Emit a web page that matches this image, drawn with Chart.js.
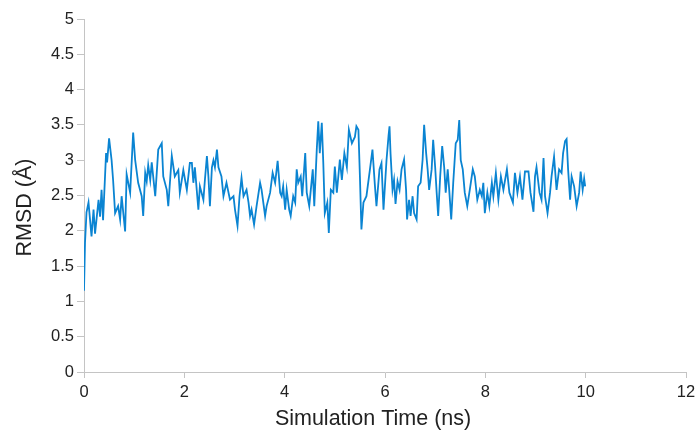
<!DOCTYPE html>
<html>
<head>
<meta charset="utf-8">
<script src="https://cdn.jsdelivr.net/npm/chart.js@4/dist/chart.umd.min.js"></script>
<style>
  html, body { margin: 0; padding: 0; background: #fff; }
  #wrap { width: 695px; height: 432px; }
</style>
</head>
<body>
<div id="wrap"><canvas id="rmsdChart"></canvas></div>
<script>
// RMSD trace over the simulation
const timeNs = [
  0.00, 0.02, 0.05, 0.09, 0.15, 0.19, 0.22, 0.29, 0.32, 0.35, 0.38, 0.44, 0.46, 0.50, 0.55, 0.58,
  0.62, 0.68, 0.72, 0.75, 0.82, 0.85, 0.92, 0.98, 1.02, 1.08, 1.15, 1.18, 1.22, 1.25, 1.28, 1.32,
  1.35, 1.42, 1.48, 1.55, 1.58, 1.65, 1.68, 1.75, 1.81, 1.88, 1.91, 1.98, 2.05, 2.11, 2.15, 2.18,
  2.21, 2.28, 2.31, 2.38, 2.41, 2.45, 2.48, 2.51, 2.55, 2.58, 2.61, 2.65, 2.68, 2.74, 2.78, 2.84,
  2.91, 2.98, 3.01, 3.06, 3.10, 3.14, 3.18, 3.24, 3.28, 3.31, 3.34, 3.39, 3.44, 3.51, 3.54, 3.61,
  3.64, 3.71, 3.76, 3.81, 3.86, 3.91, 3.94, 3.97, 4.01, 4.04, 4.09, 4.12, 4.17, 4.21, 4.24, 4.27,
  4.32, 4.35, 4.41, 4.44, 4.49, 4.56, 4.59, 4.64, 4.67, 4.70, 4.74, 4.77, 4.80, 4.85, 4.88, 4.92,
  4.97, 5.00, 5.04, 5.10, 5.14, 5.19, 5.24, 5.28, 5.34, 5.40, 5.43, 5.47, 5.50, 5.53, 5.57, 5.63,
  5.70, 5.75, 5.80, 5.83, 5.89, 5.93, 5.97, 6.03, 6.07, 6.09, 6.11, 6.15, 6.18, 6.21, 6.25, 6.29,
  6.33, 6.38, 6.42, 6.44, 6.48, 6.51, 6.55, 6.58, 6.63, 6.66, 6.71, 6.75, 6.78, 6.82, 6.85, 6.88,
  6.93, 6.96, 7.00, 7.03, 7.06, 7.10, 7.14, 7.18, 7.21, 7.25, 7.28, 7.32, 7.36, 7.41, 7.45, 7.48,
  7.51, 7.55, 7.59, 7.64, 7.69, 7.75, 7.79, 7.84, 7.89, 7.93, 7.96, 7.99, 8.04, 8.08, 8.13, 8.16,
  8.21, 8.26, 8.31, 8.36, 8.43, 8.48, 8.55, 8.59, 8.64, 8.69, 8.74, 8.79, 8.86, 8.90, 8.96, 8.99,
  9.02, 9.08, 9.12, 9.16, 9.19, 9.24, 9.29, 9.32, 9.37, 9.42, 9.47, 9.52, 9.55, 9.59, 9.62, 9.65,
  9.69, 9.72, 9.77, 9.82, 9.87, 9.90, 9.94, 9.97, 9.99
];
const rmsdA = [
  1.15, 1.83, 2.26, 2.40, 1.92, 2.30, 1.96, 2.44, 2.20, 2.58, 2.15, 3.10, 2.97, 3.31, 3.00, 2.72,
  2.25, 2.35, 2.16, 2.49, 1.99, 2.80, 2.54, 3.39, 3.00, 2.68, 2.49, 2.21, 2.82, 2.70, 2.93, 2.72,
  2.97, 2.49, 3.15, 3.24, 2.77, 2.58, 2.35, 3.06, 2.77, 2.86, 2.54, 2.86, 2.58, 2.96, 2.96, 2.68,
  2.90, 2.30, 2.63, 2.44, 2.72, 3.06, 2.77, 2.35, 2.90, 3.00, 2.90, 3.15, 2.90, 2.77, 2.49, 2.68,
  2.44, 2.49, 2.30, 2.07, 2.49, 2.75, 2.49, 2.58, 2.40, 2.21, 2.30, 2.09, 2.35, 2.68, 2.58, 2.21,
  2.35, 2.54, 2.82, 2.68, 2.99, 2.54, 2.49, 2.63, 2.30, 2.58, 2.30, 2.21, 2.49, 2.40, 2.87, 2.68,
  2.77, 2.49, 3.10, 2.54, 2.35, 2.87, 2.35, 3.15, 3.55, 3.10, 3.53, 2.96, 2.25, 2.40, 1.97, 2.58,
  2.54, 2.91, 2.54, 3.01, 2.72, 3.10, 2.90, 3.43, 3.24, 3.33, 3.48, 3.43, 2.77, 2.02, 2.40, 2.49,
  2.87, 3.15, 2.63, 2.35, 2.87, 2.96, 2.30, 3.00, 3.34, 3.48, 3.10, 2.58, 2.72, 2.38, 2.70, 2.58,
  2.87, 3.01, 2.58, 2.16, 2.44, 2.21, 2.49, 2.25, 2.16, 2.63, 2.68, 3.01, 3.50, 3.10, 2.87, 2.58,
  2.87, 3.29, 2.90, 2.54, 2.21, 2.77, 3.20, 2.90, 2.54, 2.87, 2.58, 2.16, 2.68, 3.24, 3.29, 3.57,
  3.00, 2.87, 2.54, 2.35, 2.58, 2.87, 2.77, 2.44, 2.58, 2.49, 2.68, 2.25, 2.54, 2.35, 2.68, 2.49,
  2.82, 2.44, 2.77, 2.58, 2.87, 2.54, 2.40, 2.82, 2.54, 2.77, 2.44, 2.84, 2.84, 2.54, 2.27, 2.77,
  2.90, 2.54, 2.44, 3.03, 2.49, 2.25, 2.54, 2.77, 3.05, 2.58, 2.87, 2.82, 3.10, 3.27, 3.30, 2.87,
  2.44, 2.77, 2.63, 2.35, 2.54, 2.84, 2.58, 2.74, 2.63
];
const xTicks = [0, 2, 4, 6, 8, 10, 12];
const yTicks = [0, 0.5, 1, 1.5, 2, 2.5, 3, 3.5, 4, 4.5, 5];

const axisGray = '#c4c4c4';
const textColor = '#222';
const fontFamily = "'Liberation Sans', Arial, sans-serif";

const points = timeNs.map((t, i) => ({ x: t, y: rmsdA[i] }));

new Chart(document.getElementById('rmsdChart'), {
  type: 'scatter',
  data: {
    datasets: [{
      data: points,
      showLine: true,
      borderColor: '#0a84d2',
      borderWidth: 1.8,
      pointRadius: 0,
      tension: 0,
      fill: false
    }]
  },
  options: {
    responsive: true,
    maintainAspectRatio: false,
    animation: false,
    layout: { padding: { left: 0, right: 9, top: 19, bottom: 0 } },
    plugins: { legend: { display: false }, tooltip: { enabled: false } },
    scales: {
      x: {
        type: 'linear',
        min: 0,
        max: 12,
        afterFit: s => { s.height = 60; s.paddingRight = 0; s.paddingLeft = 0; },
        afterBuildTicks: s => { s.ticks = xTicks.map(v => ({ value: v })); },
        border: { color: axisGray, width: 1 },
        grid: { drawOnChartArea: false, drawTicks: true, tickLength: 6, color: axisGray },
        ticks: { color: textColor, padding: 5, maxRotation: 0, font: { family: fontFamily, size: 16.5 } },
        title: {
          display: true,
          text: 'Simulation Time (ns)\u00a0\u00a0\u00a0\u00a0',
          color: textColor,
          padding: { top: 0, bottom: 0 },
          font: { family: fontFamily, size: 21.5 }
        }
      },
      y: {
        min: 0,
        max: 5,
        afterFit: s => { s.width = 84; s.paddingTop = 0; s.paddingBottom = 0; },
        afterBuildTicks: s => { s.ticks = yTicks.map(v => ({ value: v })); },
        border: { color: axisGray, width: 1 },
        grid: { drawOnChartArea: false, drawTicks: true, tickLength: 7, color: axisGray },
        ticks: {
          color: textColor,
          padding: 3,
          font: { family: fontFamily, size: 16.5 },
          callback: v => String(v)
        },
        title: {
          display: true,
          text: 'RMSD (Å)\u00a0\u00a0\u00a0\u00a0',
          color: textColor,
          padding: { top: 12, bottom: 0 },
          font: { family: fontFamily, size: 21.5 }
        }
      }
    }
  }
});
</script>
</body>
</html>
